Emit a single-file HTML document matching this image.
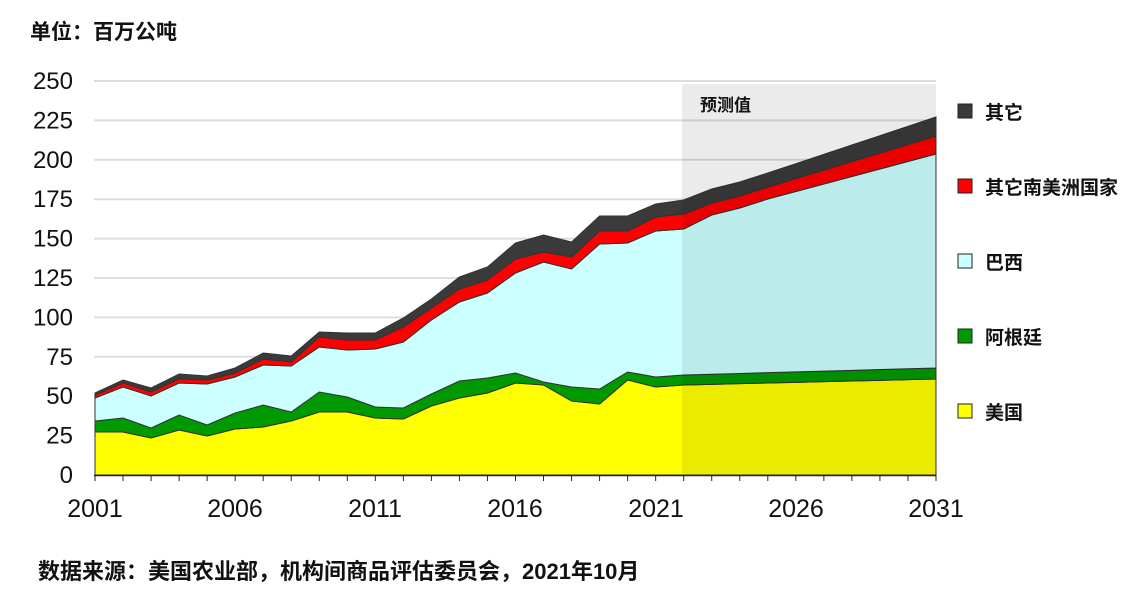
<!DOCTYPE html>
<html><head><meta charset="utf-8"><style>
body{margin:0;background:#fff;width:1134px;height:605px;overflow:hidden;font-family:"Liberation Sans","Noto Sans CJK SC",sans-serif}
</style></head><body>
<svg id="s" width="1134" height="605" xmlns="http://www.w3.org/2000/svg" font-family="Liberation Sans, Noto Sans CJK SC, sans-serif">
<text x="30" y="39" font-size="21" fill="#111" font-weight="600">单位：百万公吨</text>
<g id="grid" stroke="#ddd" stroke-width="2"></g>
<g id="areas"></g>
<rect x="682" y="84" width="254" height="391" fill="#000" fill-opacity="0.08"/>
<text x="700" y="111" font-size="17" fill="#111" font-weight="600">预测值</text>
<line x1="94" y1="475.5" x2="936" y2="475.5" stroke="#222" stroke-width="1.5"/>
<g id="ticks" stroke="#222" stroke-width="1"></g>
<g id="yl" font-size="24" fill="#111" text-anchor="end"></g>
<g font-size="25" fill="#111" text-anchor="middle">
<text x="95" y="517">2001</text><text x="235" y="517">2006</text><text x="375" y="517">2011</text><text x="515" y="517">2016</text><text x="656" y="517">2021</text><text x="796" y="517">2026</text><text x="936" y="517">2031</text>
</g>
<g font-size="19" fill="#111" font-weight="600">
<rect x="958" y="104" width="14" height="14" fill="#3a3a3a" stroke="#222"/><text x="985" y="119">其它</text>
<rect x="958" y="179" width="14" height="14" fill="#ff0000" stroke="#222"/><text x="985" y="194">其它南美洲国家</text>
<rect x="958" y="254" width="14" height="14" fill="#ccffff" stroke="#222"/><text x="985" y="269">巴西</text>
<rect x="958" y="329" width="14" height="14" fill="#009900" stroke="#222"/><text x="985" y="344">阿根廷</text>
<rect x="958" y="404" width="14" height="14" fill="#ffff00" stroke="#222"/><text x="985" y="419">美国</text>
</g>
<text x="38" y="579" font-size="22" fill="#111" font-weight="600">数据来源：美国农业部，机构间商品评估委员会，2021年10月</text>
</svg>
<script>
var NS="http://www.w3.org/2000/svg";
function el(t,a,p){var e=document.createElementNS(NS,t);for(var k in a)e.setAttribute(k,a[k]);p.appendChild(e);return e;}
var g=document.getElementById('grid'),yl=document.getElementById('yl'),tk=document.getElementById('ticks');
for(var v=0;v<=250;v+=25){var y=475-v*1.576;if(v>0)el('line',{x1:94,x2:936,y1:y,y2:y},g);var t=el('text',{x:73,y:y+8},yl);t.textContent=v;}
for(var i=0;i<=30;i++){var x=95+i*28.033;el('line',{x1:x,x2:x,y1:475,y2:481},tk);}
function fc(a,b,c,e){var r=[a,b,c];for(var i=1;i<=6;i++)r.push(c+(e-c)*i/6);return r;}
function lin(a,b){var r=[];for(var i=1;i<=9;i++)r.push(a+(b-a)*i/9);return r;}
var Y=[432,432,438,430,436,429,427,421,412,412,418,419,406,398,393,383,385,401,404,380,387,385].concat(lin(385,379));
var G=[421,418,428,415,425,413,405,412,392,397,407,408,394,381,378,373,382,387,389,372,377,375].concat(lin(375,368));
var C=[398,387,396,383,384,377,365,366,347,350,349,342,320,302,293,273,262,269,244,243,231,229].concat(fc(215,208,199,154));
var R=[395,383,392,379,380,373,359,362,337,340,340,327,308,289,280,259,252,257,231,231,217,214].concat(fc(203,196,187,136));
var B=[393,380,388,374,376,368,353,356,332,333,333,318,299,277,267,243,235,242,216,216,204,200].concat(fc(189,182,173,117));
var a=document.getElementById('areas');
function poly(top,bot,fill){var p=[];for(var i=0;i<top.length;i++)p.push((95+i*28.033)+','+top[i]);for(var i=bot.length-1;i>=0;i--)p.push((95+i*28.033)+','+bot[i]);el('polygon',{points:p.join(' '),fill:fill,stroke:'#333','stroke-width':1},a);}
var Z=[];for(var i=0;i<31;i++)Z.push(475);
poly(Y,Z,'#ffff00');poly(G,Y,'#009900');poly(C,G,'#ccffff');poly(R,C,'#ff0000');poly(B,R,'#3a3a3a');
</script>
</body></html>
